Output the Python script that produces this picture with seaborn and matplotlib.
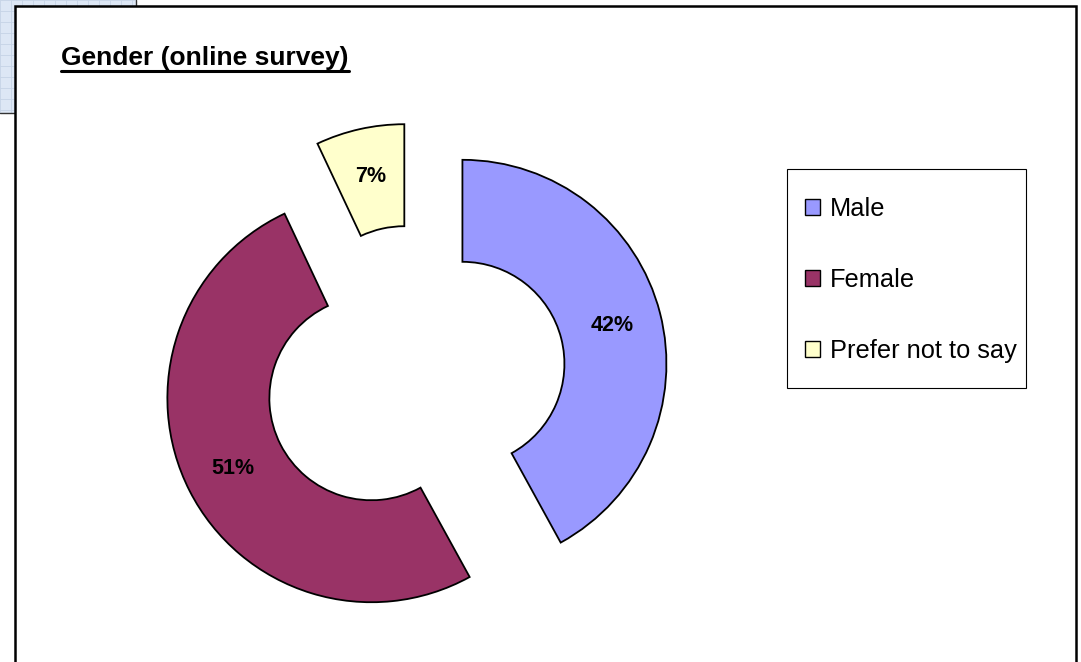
import matplotlib
matplotlib.use("Agg")
import matplotlib.pyplot as plt
import matplotlib.patches as mpatches
from matplotlib.lines import Line2D
import seaborn as sns

# data
categories = ["Male", "Female", "Prefer not to say"]
shares = [42, 51, 7]
colors = ["#9999FF", "#993366", "#FFFFCC"]
title = "Gender (online survey)"

sns.set_theme(style="white")
plt.rcParams['font.family'] = ['Liberation Sans', 'DejaVu Sans']
plt.rcParams['text.color'] = 'black'

W, H = 1081, 662
fig = plt.figure(figsize=(W / 100, H / 100), dpi=100)
fig.patch.set_facecolor("white")


def fx(px):
    return px / W


def fy(py):
    return 1 - py / H


# spreadsheet grid peeking out behind the chart (top-left)
grid_bg = mpatches.Rectangle((0, fy(113)), fx(136), 113 / H, transform=fig.transFigure,
                             facecolor="#DDE7F5", edgecolor="none", zorder=0)
fig.patches.append(grid_bg)
for gx in range(0, 137, 11):
    fig.add_artist(Line2D([fx(gx), fx(gx)], [fy(113), 1], transform=fig.transFigure,
                          color="#C6D3E6", lw=0.6, zorder=0.5))
for gy in range(0, 114, 11):
    fig.add_artist(Line2D([0, fx(136)], [fy(gy), fy(gy)], transform=fig.transFigure,
                          color="#C6D3E6", lw=0.6, zorder=0.5))
fig.add_artist(Line2D([fx(136), fx(136)], [fy(6), 1], transform=fig.transFigure,
                      color="#333333", lw=1.0, zorder=0.6))
fig.add_artist(Line2D([0, fx(15)], [fy(113), fy(113)], transform=fig.transFigure,
                      color="#333333", lw=1.0, zorder=0.6))

# chart area with black frame
frame = mpatches.Rectangle((fx(15), -0.02), fx(1076 - 15), 1.02 - 6 / H,
                           transform=fig.transFigure, facecolor="white",
                           edgecolor="black", lw=1.8, zorder=1)
fig.patches.append(frame)

# donut axes: centre at (415, 376) px, outer radius 204 px
R = 204
half = 1.5 * R
ax = fig.add_axes([fx(415 - half), fy(376 + half), 2 * half / W, 2 * half / H])
ax.set_zorder(2)
ax.patch.set_alpha(0)
wedges, texts, autotexts = ax.pie(
    shares, colors=colors, startangle=90, counterclock=False,
    explode=[0.24] * len(shares), autopct="%d%%", pctdistance=0.76,
    wedgeprops=dict(width=0.5, edgecolor="black", linewidth=1.3),
    textprops=dict(fontsize=15.5, fontweight="bold", color="black"))
ax.set_xlim(-1.5, 1.5)
ax.set_ylim(-1.5, 1.5)
ax.axis("off")

# title with underline
t = fig.text(fx(61), fy(65), title, fontsize=19, fontweight="bold", color="black",
             ha="left", va="baseline", zorder=3)
fig.canvas.draw()
bb = t.get_window_extent()
fig.add_artist(Line2D([bb.x0 / W, bb.x1 / W], [fy(71), fy(71)], transform=fig.transFigure,
                      color="black", lw=2.2, zorder=3))

# legend box drawn separately, entries placed inside it
legend_box = mpatches.Rectangle((fx(787), fy(388)), fx(1026 - 787), (388 - 169) / H,
                                transform=fig.transFigure, facecolor="white",
                                edgecolor="black", lw=0.8, zorder=2.5)
fig.patches.append(legend_box)
handles = [mpatches.Patch(facecolor=c, edgecolor="black", lw=1.0) for c in colors]
leg = fig.legend(handles, categories, loc="upper left", bbox_to_anchor=(fx(805), fy(197)),
                 bbox_transform=fig.transFigure, fontsize=18.3, frameon=False,
                 borderaxespad=0, borderpad=0, labelspacing=1.85,
                 handlelength=0.6, handleheight=0.6, handletextpad=0.38,
                 labelcolor="black")
leg.set_zorder(3)

fig.savefig("out.png", dpi=100)
